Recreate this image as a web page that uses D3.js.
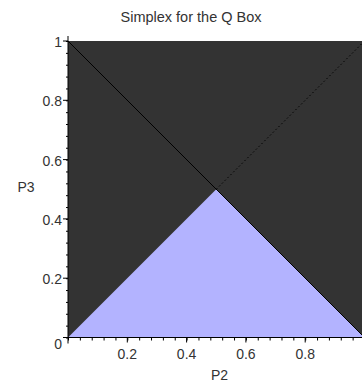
<!DOCTYPE html>
<html>
<head>
<meta charset="utf-8">
<script src="https://cdn.jsdelivr.net/npm/d3@7"></script>
<style>
  body { margin: 0; background: #fff; }
  text { font-family: "Liberation Sans", Arial, sans-serif; fill: #333; }
</style>
</head>
<body>
<div id="chart"></div>
<script>
// simplex regions, in (P2, P3) coordinates
const lowerRegion = [[0, 0], [0.5, 0.5], [1, 0]];
const solidLine = [[0, 1], [1, 0]];
const dottedLine = [[0.5, 0.5], [1, 1]];
const xTicks = [0.2, 0.4, 0.6, 0.8];
const yTicks = [0, 0.2, 0.4, 0.6, 0.8, 1];
const minorStep = 0.04;

const width = 362, height = 383;
const x0 = 68, x1 = 364.5, yTop = 41, yBot = 337.5;

const svg = d3.select("#chart").append("svg")
    .attr("width", width)
    .attr("height", height);

const x = d3.scaleLinear().domain([0, 1]).range([x0, x1]);
const y = d3.scaleLinear().domain([0, 1]).range([yBot, yTop]);

const line = d3.line().x(d => x(d[0])).y(d => y(d[1]));

// dark background of the simplex
svg.append("rect")
    .attr("x", x(0)).attr("y", y(1))
    .attr("width", x(1) - x(0)).attr("height", y(0) - y(1))
    .style("fill", "#333333");

svg.append("path")
    .attr("d", line(lowerRegion) + "Z")
    .style("fill", "#b3b3ff");

svg.append("path")
    .attr("d", line(solidLine))
    .style("fill", "none").style("stroke", "#000").style("stroke-width", 1);

svg.append("path")
    .attr("d", line(dottedLine))
    .style("fill", "none").style("stroke", "#000").style("stroke-width", 1)
    .style("stroke-dasharray", "1.5,2.5");

// minor ticks
const minor = d3.range(0, 1.0001, minorStep);
const xAxis = d3.axisBottom(x)
    .tickValues(minor).tickSize(3).tickFormat("");
svg.append("g").attr("transform", `translate(0,${y(0)})`).call(xAxis);

const yAxis = d3.axisLeft(y)
    .tickValues(minor).tickSize(2).tickFormat("");
svg.append("g").attr("transform", `translate(${x(0)},0)`).call(yAxis);

svg.selectAll(".tick line").style("stroke", "#000");
svg.selectAll(".domain").remove();

// axis lines
svg.append("line")
    .attr("x1", x(0)).attr("x2", x(0))
    .attr("y1", y(1) - 5).attr("y2", y(0) + 6)
    .style("stroke", "#000");
svg.append("line")
    .attr("x1", x(0) - 5).attr("x2", width)
    .attr("y1", y(0)).attr("y2", y(0))
    .style("stroke", "#000");

// major ticks
svg.selectAll(".ymajor").data(yTicks).enter().append("line")
    .attr("x1", x(0) - 5).attr("x2", x(0))
    .attr("y1", d => y(d)).attr("y2", d => y(d))
    .style("stroke", "#000");
svg.selectAll(".xmajor").data(xTicks).enter().append("line")
    .attr("x1", d => x(d)).attr("x2", d => x(d))
    .attr("y1", y(0)).attr("y2", y(0) + 5)
    .style("stroke", "#000");

// tick labels
svg.selectAll(".ylab").data(yTicks).enter().append("text")
    .attr("x", x(0) - 6)
    .attr("y", d => y(d) + (d === 0 ? 11 : 6))
    .attr("text-anchor", "end")
    .style("font-size", "14px")
    .text(d => d3.format("")(d));

svg.selectAll(".xlab").data(xTicks).enter().append("text")
    .attr("x", d => x(d))
    .attr("y", y(0) + 21)
    .attr("text-anchor", "middle")
    .style("font-size", "14px")
    .text(d => d);

// titles
svg.append("text")
    .attr("x", 191).attr("y", 22)
    .attr("text-anchor", "middle")
    .style("font-size", "14.5px")
    .text("Simplex for the Q Box");

svg.append("text")
    .attr("x", 219.5).attr("y", 380)
    .attr("text-anchor", "middle")
    .style("font-size", "14px")
    .text("P2");

svg.append("text")
    .attr("x", 26).attr("y", 192)
    .attr("text-anchor", "middle")
    .style("font-size", "14px")
    .text("P3");
</script>
</body>
</html>
